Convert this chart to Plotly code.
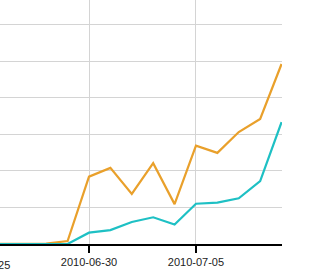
import plotly.graph_objects as go
import pandas as pd

dates = pd.date_range("2010-06-25", "2010-07-09", freq="D").strftime("%Y-%m-%d").tolist()
orange_vals = [0, 0, 0, 0.1, 0.8, 18.4, 20.8, 13.7, 22.1, 10.9, 26.9, 24.9, 30.6, 34.2, 49.2]
teal_vals = [0, 0, 0, 0, 0, 3.1, 3.8, 6.0, 7.3, 5.3, 11.0, 11.3, 12.5, 17.2, 33.3]
tick_vals = ["2010-06-25", "2010-06-30", "2010-07-05"]
x_range = ["2010-06-25 20:10", "2010-07-09 00:30"]

fig = go.Figure()
fig.add_trace(go.Scatter(x=dates, y=orange_vals, mode="lines",
                         line=dict(color="#E9A02B", width=2.2), cliponaxis=False))
fig.add_trace(go.Scatter(x=dates, y=teal_vals, mode="lines",
                         line=dict(color="#1EC0C4", width=2.2), cliponaxis=False))

# partially visible tick label left of the plot
t0 = pd.Timestamp(x_range[0]); t1 = pd.Timestamp(x_range[1])
frac = (pd.Timestamp(tick_vals[0]) - t0) / (t1 - t0)
fig.add_annotation(x=frac, y=0, xref="paper", yref="paper", text=tick_vals[0],
                   showarrow=False, xanchor="center", yanchor="top", yshift=-13,
                   font=dict(family="Liberation Sans, Arial", size=11, color="#222"))

fig.update_layout(
    width=323, height=278,
    margin=dict(l=0, r=41, t=0, b=34),
    paper_bgcolor="white", plot_bgcolor="white",
    showlegend=False,
    xaxis=dict(type="date", range=x_range, tickvals=tick_vals, ticktext=tick_vals,
               showgrid=True, gridcolor="#d4d4d4", gridwidth=1,
               showline=True, linecolor="black", linewidth=2,
               ticks="outside", ticklen=7, tickwidth=1.5, tickcolor="black",
               tickfont=dict(family="Liberation Sans, Arial", size=11, color="#222"),
               zeroline=False),
    yaxis=dict(range=[0, 66.7], dtick=10, showgrid=True, gridcolor="#d4d4d4", gridwidth=1,
               showticklabels=False, zeroline=False, showline=False, ticks=""),
)
fig.write_html("out.html")
